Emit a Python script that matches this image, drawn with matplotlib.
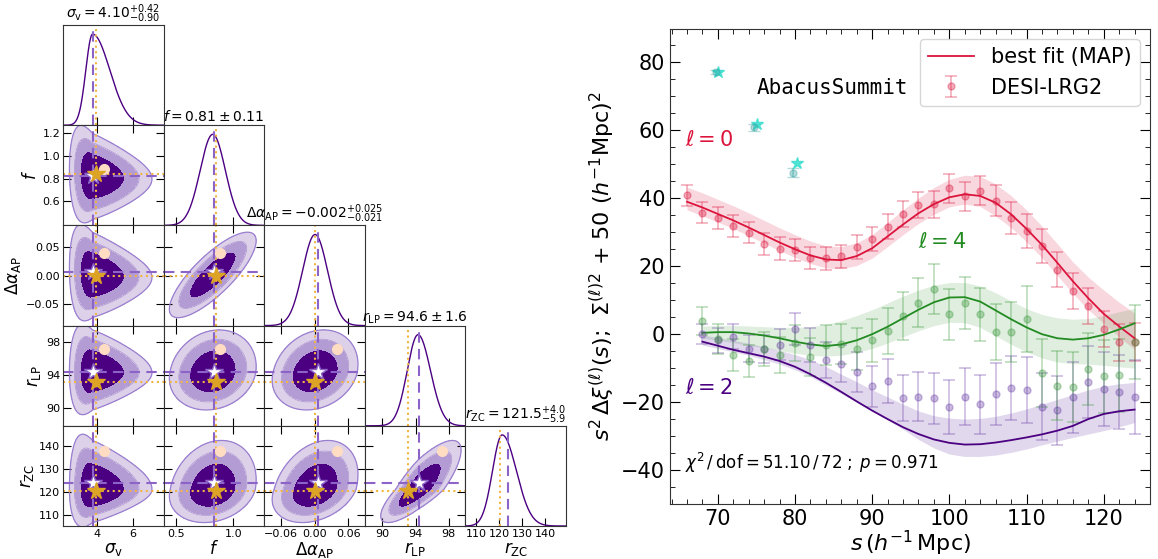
import numpy as np
import matplotlib
matplotlib.use('Agg')
import matplotlib.pyplot as plt
from matplotlib.ticker import MultipleLocator

W, H = 1158, 559

# ---------------- corner plot: posterior summaries ----------------
par_labels = [r'$\sigma_{\rm v}$', r'$f$', r'$\Delta\alpha_{\rm AP}$',
              r'$r_{\rm LP}$', r'$r_{\rm ZC}$']
par_titles = [r'$\sigma_{\rm v} = 4.10^{+0.42}_{-0.90}$',
              r'$f = 0.81 \pm 0.11$',
              r'$\Delta\alpha_{\rm AP} = -0.002^{+0.025}_{-0.021}$',
              r'$r_{\rm LP} = 94.6 \pm 1.6$',
              r'$r_{\rm ZC} = 121.5^{+4.0}_{-5.9}$']
post_mode = [3.76, 0.82, 0.001, 94.3, 121.2]
post_sig_lo = [0.37, 0.11, 0.022, 1.3, 4.2]
post_sig_hi = [0.95, 0.11, 0.022, 1.5, 6.2]
post_corr = [[1.0, -0.10, -0.10, 0.00, 0.00],
             [-0.10, 1.0, 0.80, 0.15, 0.20],
             [-0.10, 0.80, 1.0, 0.20, 0.30],
             [0.00, 0.15, 0.20, 1.0, 0.80],
             [0.00, 0.20, 0.30, 0.80, 1.0]]
# how fast the other parameter narrows as sigma_v grows (triangular contours)
sigv_taper = 0.15
# contour radii (in units of the posterior width) for the three shades
contour_radii = [1.85, 2.7, 3.45]
map_vals = [3.76, 0.827, 0.006, 94.4, 123.9]
true_vals = [3.93, 0.845, 0.0, 93.15, 120.4]
ref_vals = [4.40, 0.885, 0.040, 97.2, 138.2]
par_lims = [(2.13, 7.68), (0.39, 1.27), (-0.089, 0.089), (87.9, 100.0), (105.2, 149.0)]
par_xticks = [[4, 6], [0.5, 1.0], [-0.06, 0.0, 0.06], [90, 94, 98], [110, 120, 130, 140]]
par_yticks = [[4, 6], [0.6, 0.8, 1.0, 1.2], [-0.05, 0.0, 0.05], [90, 94, 98],
              [110, 120, 130, 140]]

# ---------------- multipoles ----------------
s_l0 = [66, 68, 70, 72, 74, 76, 78, 80, 82, 84, 86, 88, 90, 92, 94, 96, 98, 100,
        102, 104, 106, 108, 110, 112, 114, 116, 118, 120, 122, 124]
s_l24 = [68, 70, 72, 74, 76, 78, 80, 82, 84, 86, 88, 90, 92, 94, 96, 98, 100,
         102, 104, 106, 108, 110, 112, 114, 116, 118, 120, 122, 124]

xi0 = [40.9, 35.8, 34.2, 31.8, 29.9, 26.6, 25.2, 24.7, 22.4, 22.3, 23.0, 25.6, 28.0,
       31.7, 35.4, 38.1, 38.3, 42.9, 40.6, 42.3, 39.3, 34.2, 30.3, 25.9, 19.0, 12.7,
       8.4, 1.5, -2.4, -2.3]
err0 = [3.1, 3.1, 3.1, 3.2, 3.2, 3.2, 3.3, 3.3, 3.3, 3.3, 3.4, 3.5, 3.6, 3.7, 3.8,
        3.9, 4.0, 4.2, 4.3, 4.4, 4.6, 4.8, 5.0, 5.0, 5.1, 5.2, 5.3, 5.4, 5.5, 5.5]
model0 = [39.0, 37.3, 35.4, 33.5, 31.4, 29.2, 27.0, 25.0, 23.2, 22.0, 21.8, 23.0,
          25.3, 28.8, 32.3, 35.6, 38.3, 40.3, 41.2, 40.7, 38.7, 35.3, 31.0, 26.3,
          21.0, 15.6, 10.6, 6.0, 2.3, -1.2]
band0_lo = [36.6, 34.9, 33.0, 31.1, 29.0, 26.8, 24.6, 22.6, 20.8, 19.5, 19.3, 20.2,
            22.4, 25.8, 29.3, 32.6, 35.3, 37.5, 38.3, 37.6, 34.8, 31.4, 27.2, 22.5,
            17.3, 12.0, 7.2, 3.2, -0.8, -4.5]
band0_hi = [43.3, 41.6, 39.7, 37.8, 35.7, 33.5, 31.3, 29.3, 27.4, 26.0, 25.8, 26.9,
            29.3, 32.9, 36.6, 40.1, 43.2, 45.6, 46.8, 46.5, 44.2, 40.8, 36.6, 31.8,
            26.6, 21.3, 16.8, 13.0, 9.4, 6.2]

xi2 = [0.1, -1.8, -0.7, -4.3, -4.4, -3.1, 1.5, -3.2, -7.6, -8.7, -11.1, -15.4, -13.8,
       -18.7, -18.4, -18.9, -21.4, -18.4, -20.7, -17.6, -15.8, -16.4, -21.3, -22.4,
       -18.6, -14.0, -16.1, -17.0, -18.5]
err2 = [3.0, 3.6, 3.8, 4.0, 4.2, 4.5, 4.8, 5.0, 5.3, 5.5, 5.8, 6.0, 6.4, 6.8, 7.2,
        7.6, 8.0, 8.3, 8.6, 9.0, 9.4, 9.8, 10.0, 10.2, 10.4, 10.6, 10.8, 10.9, 11.0]
model2 = [-2.2, -3.4, -4.6, -5.6, -6.6, -7.9, -9.6, -11.8, -14.3, -17.0, -19.8, -22.5,
          -25.0, -27.4, -29.4, -31.0, -32.0, -32.5, -32.4, -31.9, -31.2, -30.4, -29.5,
          -28.4, -27.0, -25.0, -23.5, -22.7, -22.2]
band2_lo = [-3.2, -4.2, -5.2, -6.2, -7.5, -8.8, -10.5, -12.5, -15.0, -17.5, -20.0,
            -22.6, -25.2, -28.0, -31.0, -33.5, -35.3, -36.0, -36.0, -35.6, -34.8,
            -33.8, -32.6, -31.5, -30.4, -29.4, -28.4, -27.3, -26.0]
band2_hi = [-0.2, -1.0, -1.8, -2.7, -3.7, -4.8, -6.0, -7.5, -9.5, -11.8, -14.0, -16.4,
            -18.5, -20.6, -22.6, -24.0, -24.7, -25.0, -24.8, -24.2, -23.2, -22.0,
            -20.6, -19.2, -17.8, -16.4, -15.3, -14.6, -14.2]

xi4 = [3.9, -1.5, -6.1, -7.9, -4.4, -6.1, -2.6, -6.6, -3.2, -2.9, -4.4, -1.8, 0.9,
       5.4, 9.3, 13.2, 5.9, 9.1, 5.8, 0.7, 0.6, 4.4, -11.3, -15.2, -15.6, -10.2,
       -12.4, -12.1, -2.3]
err4 = [4.2, 4.4, 4.6, 4.8, 5.0, 5.2, 5.4, 5.6, 5.8, 6.0, 6.2, 6.4, 6.7, 7.0, 7.2,
        7.4, 7.5, 7.6, 7.8, 8.2, 8.8, 9.7, 10.0, 10.2, 10.4, 10.6, 10.7, 10.8, 10.9]
model4 = [0.4, 0.6, 0.6, 0.2, -0.4, -1.2, -2.2, -3.0, -3.5, -3.0, -1.8, 0.0, 2.2, 4.7,
          7.2, 9.4, 10.8, 10.9, 9.6, 7.0, 4.4, 2.0, 0.0, -1.2, -1.6, -1.2, -0.2, 1.4, 3.2]
band4_lo = [-1.2, -1.8, -2.5, -3.3, -4.0, -4.8, -5.6, -6.2, -6.5, -6.2, -5.4, -4.2,
            -2.6, -0.8, 1.0, 2.5, 3.5, 3.4, 2.0, -0.5, -3.0, -5.2, -7.0, -8.2, -8.7,
            -8.8, -9.2, -9.6, -10.0]
band4_hi = [2.4, 2.6, 2.6, 2.4, 2.2, 2.0, 2.0, 2.2, 2.8, 4.0, 5.5, 7.2, 9.2, 11.2, 13.0,
            14.4, 15.2, 15.2, 14.2, 12.2, 9.8, 7.5, 5.8, 4.8, 4.4, 4.6, 5.5, 6.6, 7.6]

# AbacusSummit reference points (top left)
abacus_s = [69.8, 74.7, 79.7]
abacus_v = [77.1, 60.9, 47.6]
abacus_err = [0.6, 1.1, 1.2]
abacus_star_s = [70.0, 75.1, 80.2]
abacus_star_v = [77.2, 61.8, 50.5]

C0, C2, C4 = '#dc143c', '#4b0082', '#228b22'
LIGHT, MED, DARK, EDGE = '#ddd1ea', '#b39bd3', '#4b0082', '#9a7fd0'
MAPC, TRUEC = '#8c64c8', '#f2b541'

fig = plt.figure(figsize=(W / 100, H / 100), dpi=100)


def zscore(x, k):
    u = np.asarray(x, dtype=float) - post_mode[k]
    return np.where(u < 0, u / post_sig_lo[k], u / post_sig_hi[k])


n = len(par_labels)
gx0, gx1, gy0, gy1 = 63.0, 566.0, 25.0, 526.0
pw, ph = (gx1 - gx0) / n, (gy1 - gy0) / n
q_levels = [0] + [r ** 2 for r in contour_radii]

for i in range(n):
    for j in range(i + 1):
        ax = fig.add_axes([(gx0 + j * pw) / W, 1 - (gy0 + (i + 1) * ph) / H, pw / W, ph / H])
        ax.set_xlim(par_lims[j])
        ax.set_xticks(par_xticks[j])
        if i == j:
            x = np.linspace(*par_lims[i], 400)
            ax.plot(x, np.exp(-0.5 * zscore(x, i) ** 2), color=C2, lw=1.0)
            ax.set_ylim(0, 1.1)
            ax.set_yticks([])
            ax.axvline(map_vals[i], color=MAPC, ls=(0, (5, 3)), lw=1.5)
            ax.axvline(true_vals[i], color=TRUEC, ls=':', lw=1.5)
            ax.set_title(par_titles[i], fontsize=10, pad=3)
            ax.tick_params(direction='in', length=6, top=False, right=False,
                           labelsize=8, pad=2, labelbottom=(i == n - 1))
        else:
            ax.set_ylim(par_lims[i])
            ax.set_yticks(par_yticks[i])
            xg = np.linspace(*par_lims[j], 240)
            yg = np.linspace(*par_lims[i], 240)
            X, Y = np.meshgrid(xg, yg)
            z1, z2 = zscore(X, j), zscore(Y, i)
            if j == 0:
                z2 = z2 * np.exp(sigv_taper * z1)
            rho = post_corr[i][j]
            Q = (z1 ** 2 - 2 * rho * z1 * z2 + z2 ** 2) / (1 - rho ** 2)
            ax.contourf(X, Y, Q, levels=q_levels, colors=[DARK, MED, LIGHT])
            ax.contour(X, Y, Q, levels=[q_levels[3]], colors=EDGE, linewidths=0.9)
            ax.contour(X, Y, Q, levels=[q_levels[2]], colors=MED, linewidths=0.6)
            ax.axvline(map_vals[j], color=MAPC, ls=(0, (5, 3)), lw=1.5)
            ax.axvline(true_vals[j], color=TRUEC, ls=':', lw=1.5)
            ax.axhline(map_vals[i], color=MAPC, ls=(0, (5, 3)), lw=1.5)
            ax.axhline(true_vals[i], color=TRUEC, ls=':', lw=1.5)
            ax.plot(ref_vals[j], ref_vals[i], 'o', color='#ffdcc2', ms=7, zorder=5)
            ax.plot(map_vals[j], map_vals[i], '*', mfc='white', mec=MAPC, mew=1.0,
                    ms=13, zorder=6)
            ax.plot(true_vals[j], true_vals[i], '*', color='#dca325', ms=13, zorder=7)
            ax.tick_params(direction='in', length=6, top=True, right=True, labelsize=8,
                           pad=2, labelbottom=(i == n - 1), labelleft=(j == 0))
        if i == n - 1:
            ax.set_xlabel(par_labels[j], fontsize=12, labelpad=1)
        if j == 0 and i > 0:
            ax.set_ylabel(par_labels[i], fontsize=12, labelpad=2)
        for sp in ax.spines.values():
            sp.set_color('#333333')

# ---------------- right panel ----------------
ax = fig.add_axes([670 / W, 1 - 504 / H, 480 / W, 475.5 / H])
ax.fill_between(s_l0, band0_lo, band0_hi, color=C0, alpha=0.17, lw=0)
ax.fill_between(s_l24, band4_lo, band4_hi, color=C4, alpha=0.14, lw=0)
ax.fill_between(s_l24, band2_lo, band2_hi, color='#6a3fa6', alpha=0.2, lw=0)

eb_kw = dict(fmt='o', ms=5, capsize=4.5, elinewidth=1.2, capthick=1.2, alpha=0.35)
h_data = ax.errorbar(s_l0, xi0, yerr=err0, color=C0, **eb_kw)
ax.errorbar(s_l24, xi2, yerr=err2, color='#6a3fa6', **eb_kw)
ax.errorbar(s_l24, xi4, yerr=err4, color='#3c9a3c', **eb_kw)
h_fit, = ax.plot(s_l0, model0, color=C0, lw=1.3)
ax.plot(s_l24, model2, color=C2, lw=1.3)
ax.plot(s_l24, model4, color=C4, lw=1.3)

ax.errorbar(abacus_s, abacus_v, yerr=abacus_err, fmt='o', color='#2a9d9d', ms=5,
            capsize=4.5, alpha=0.35)
ax.plot(abacus_star_s, abacus_star_v, '*', color='#40e0d0', ms=9, alpha=0.9)

ax.text(75.0, 72.4, 'AbacusSummit', family='DejaVu Sans Mono', fontsize=15, va='center')
ax.text(65.8, 57.2, r'$\ell = 0$', color=C0, fontsize=15, va='center')
ax.text(96.0, 27.0, r'$\ell = 4$', color=C4, fontsize=15, va='center')
ax.text(65.8, -15.8, r'$\ell = 2$', color=C2, fontsize=15, va='center')
ax.text(65.8, -38.0, r'$\chi^2\,/\,\mathrm{dof} = 51.10\,/\,72\;;\;p = 0.971$',
        fontsize=12, va='center')

ax.set_xlim(63.8, 126.0)
ax.set_ylim(-50, 90)
ax.xaxis.set_major_locator(MultipleLocator(10))
ax.xaxis.set_minor_locator(MultipleLocator(2))
ax.yaxis.set_major_locator(MultipleLocator(20))
ax.yaxis.set_minor_locator(MultipleLocator(5))
ax.tick_params(which='both', direction='in', top=True, right=True, labelsize=15)
ax.tick_params(which='major', length=7)
ax.tick_params(which='minor', length=3.5)
for sp in ax.spines.values():
    sp.set_color('#333333')
ax.set_xlabel(r'$s\,(h^{-1}\,$Mpc$)$', fontsize=16, labelpad=0)
ax.set_ylabel(r'$s^2\,\Delta\xi^{(\ell)}(s)$;  $\Sigma^{(\ell)2}$ + 50 $(h^{-1}$Mpc$)^2$',
              fontsize=16)
ax.legend([h_fit, h_data], ['best fit (MAP)', 'DESI-LRG2'], loc='upper right',
          fontsize=15, handlelength=2.2)

fig.savefig('out.png', dpi=100)
